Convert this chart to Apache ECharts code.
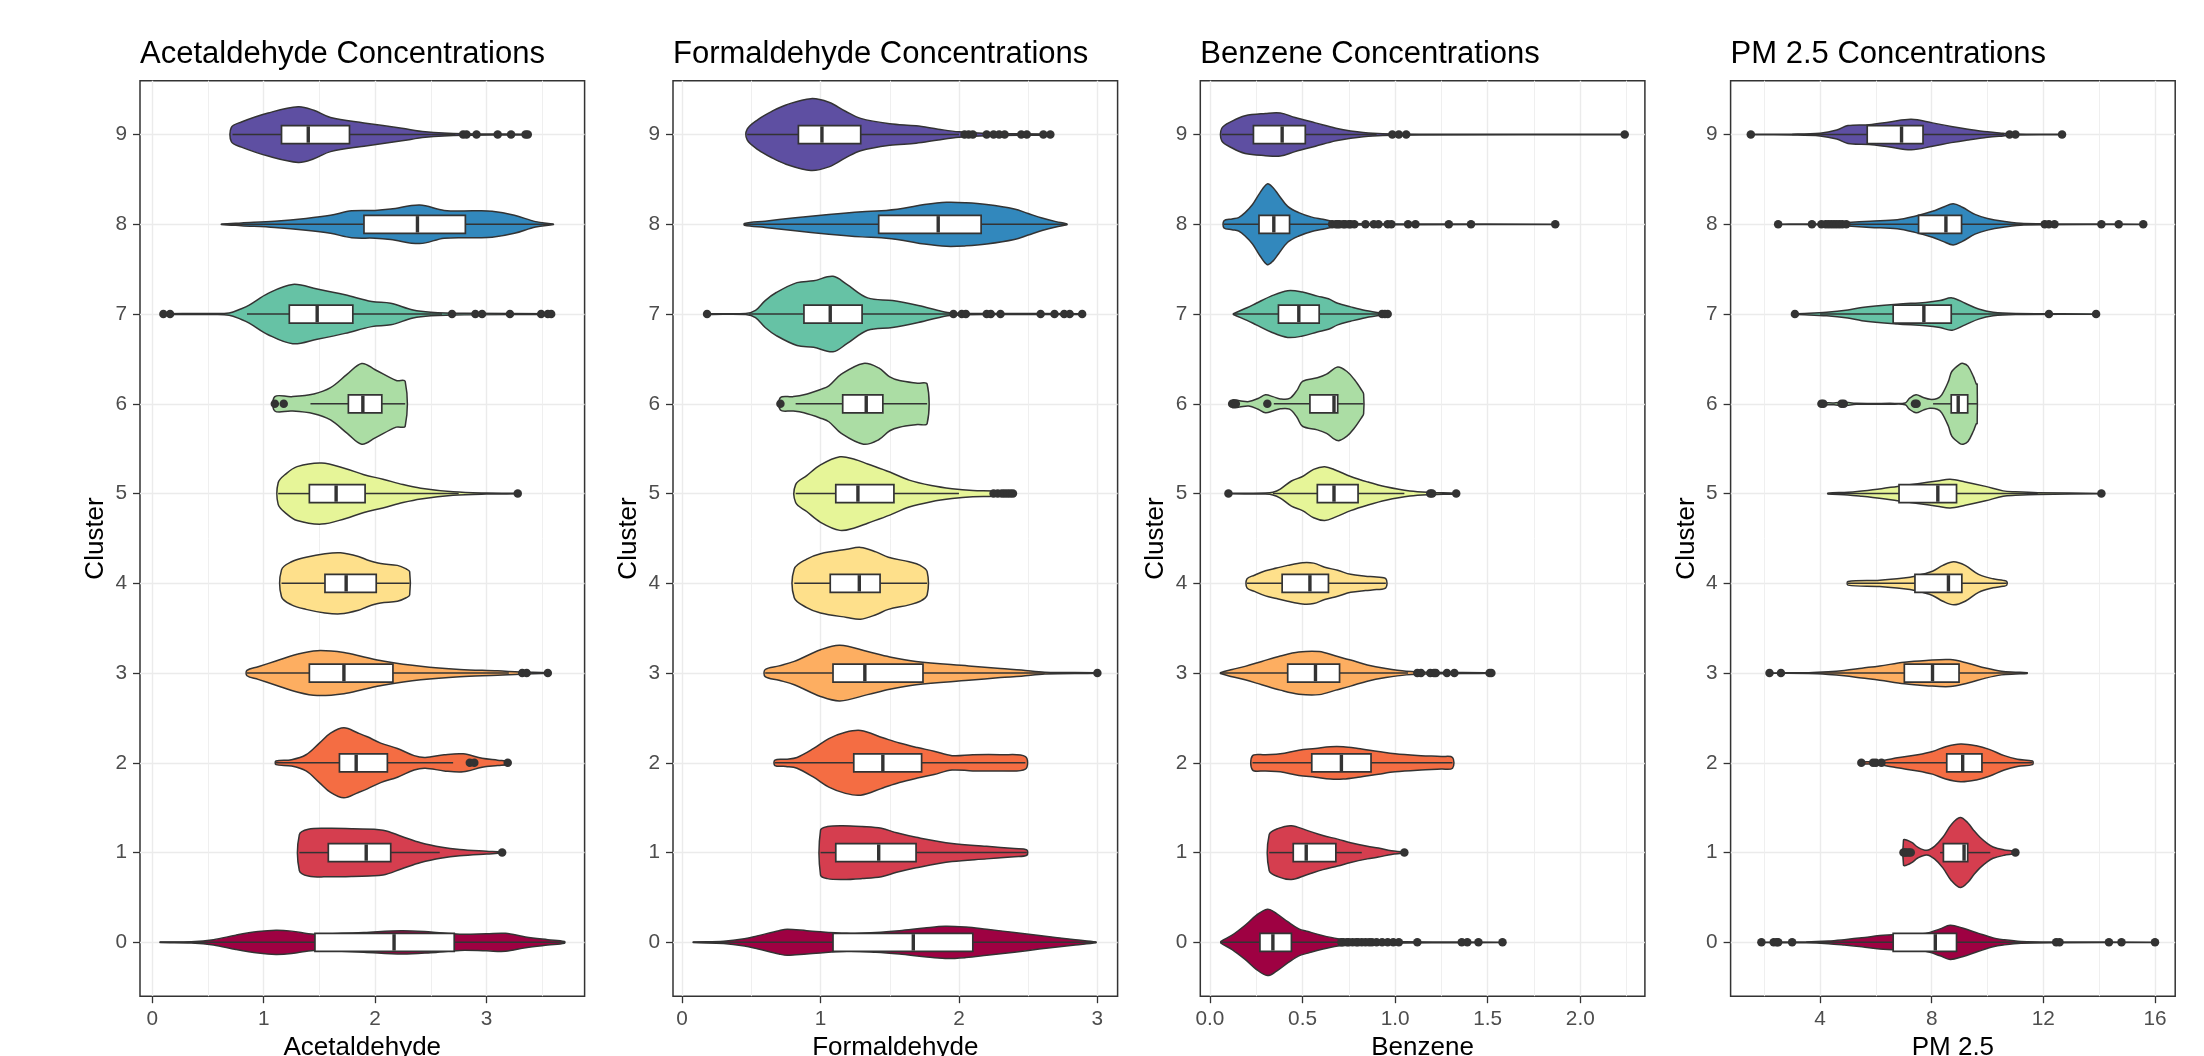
<!DOCTYPE html>
<html><head><meta charset="utf-8">
<script src="https://cdn.jsdelivr.net/npm/echarts@6/dist/echarts.min.js"></script>
<style>html,body{margin:0;padding:0;background:#fff}#c{width:2204px;height:1056px}</style>
</head><body><div id="c"></div>
<script>
// ---------- DATA ----------
const clusters = [0,1,2,3,4,5,6,7,8,9];
const clusterColors = ['#9E0142','#D53E4F','#F46D43','#FDAE61','#FEE08B','#E6F598','#ABDDA4','#66C2A5','#3288BD','#5E4FA2'];

const panelTitles = ['Acetaldehyde Concentrations','Formaldehyde Concentrations','Benzene Concentrations','PM 2.5 Concentrations'];
const axisNames = ['Acetaldehyde','Formaldehyde','Benzene','PM 2.5'];

const acetTicks = [0,1,2,3];
const acetMinor = [0.5,1.5,2.5,3.5];
const formTicks = [0,1,2,3];
const formMinor = [0.5,1.5,2.5];
const benzTicks = [0,0.5,1,1.5,2];
const benzMinor = [0.25,0.75,1.25,1.75,2.25];
const pmTicks = [4,8,12,16];
const pmMinor = [2,6,10,14];

// violin outline: [value, half-width in cluster units]
const acetViolin = [
 [[0.07,0.003],[0.35,0.008],[0.55,0.03],[0.75,0.08],[0.95,0.12],[1.11,0.135],[1.25,0.125],[1.45,0.09],[1.7,0.1],[1.9,0.11],[2.24,0.13],[2.5,0.115],[2.76,0.09],[3.0,0.095],[3.17,0.1],[3.35,0.06],[3.55,0.03],[3.7,0.01]],
 [[1.32,0.2],[1.4,0.26],[1.59,0.27],[1.8,0.265],[2.07,0.25],[2.24,0.18],[2.41,0.11],[2.6,0.06],[2.76,0.035],[3.0,0.015],[3.14,0.005]],
 [[1.11,0.02],[1.25,0.035],[1.38,0.09],[1.5,0.22],[1.6,0.33],[1.72,0.39],[1.85,0.33],[1.93,0.29],[2.05,0.22],[2.2,0.16],[2.35,0.08],[2.45,0.06],[2.62,0.09],[2.79,0.10],[2.96,0.05],[3.1,0.03],[3.2,0.015]],
 [[0.85,0.03],[0.95,0.07],[1.11,0.135],[1.3,0.21],[1.48,0.25],[1.72,0.23],[1.9,0.18],[2.07,0.135],[2.41,0.075],[2.76,0.04],[3.1,0.025],[3.3,0.012],[3.55,0.003]],
 [[1.16,0.15],[1.25,0.24],[1.38,0.29],[1.55,0.33],[1.69,0.34],[1.85,0.3],[1.93,0.26],[2.05,0.22],[2.2,0.2],[2.28,0.16],[2.31,0.13]],
 [[1.13,0.12],[1.2,0.22],[1.3,0.3],[1.52,0.34],[1.73,0.28],[1.9,0.21],[2.07,0.16],[2.25,0.1],[2.41,0.06],[2.7,0.02],[3.0,0.006],[3.28,0.003]],
 [[1.10,0.08],[1.25,0.08],[1.45,0.11],[1.6,0.18],[1.75,0.33],[1.88,0.45],[2.0,0.38],[2.19,0.26],[2.27,0.25]],
 [[0.10,0.004],[0.5,0.006],[0.69,0.012],[0.8,0.06],[0.87,0.10],[1.04,0.23],[1.26,0.33],[1.48,0.28],[1.73,0.215],[1.97,0.14],[2.14,0.12],[2.34,0.045],[2.5,0.02],[2.8,0.008],[3.58,0.004]],
 [[0.62,0.002],[0.8,0.015],[1.1,0.035],[1.38,0.065],[1.6,0.1],[1.79,0.15],[2.0,0.155],[2.14,0.17],[2.4,0.215],[2.62,0.155],[2.9,0.15],[3.05,0.145],[3.25,0.1],[3.44,0.03],[3.6,0.002]],
 [[0.71,0.08],[0.8,0.14],[1.04,0.24],[1.31,0.31],[1.45,0.27],[1.6,0.19],[1.9,0.13],[2.24,0.07],[2.45,0.03],[2.8,0.008],[3.37,0.004]]
];
// box: [lower whisker, q1, median, q3, upper whisker]
const acetBox = [
 [0.07,1.46,2.17,2.71,3.70],[1.32,1.58,1.92,2.14,2.58],[1.11,1.68,1.83,2.11,2.70],[0.85,1.41,1.72,2.16,3.2],[1.16,1.55,1.74,2.01,2.31],
 [1.13,1.41,1.65,1.91,2.75],[1.42,1.76,1.89,2.06,2.27],[0.85,1.23,1.48,1.80,2.6],[0.62,1.90,2.38,2.81,3.6],[0.72,1.16,1.40,1.77,2.72]
];
const acetOutliers = [
 [],[3.14],[2.85,2.89,3.19],[3.32,3.36,3.55],[],[3.28],[1.10,1.18],
 [0.10,0.16,2.69,2.90,2.96,3.21,3.49,3.55,3.58],[],[2.79,2.82,2.91,3.10,3.22,3.35,3.37]
];

const formViolin = [
 [[0.08,0.003],[0.3,0.012],[0.45,0.04],[0.55,0.075],[0.7,0.13],[0.76,0.145],[0.9,0.13],[1.19,0.1],[1.4,0.11],[1.57,0.13],[1.75,0.16],[1.9,0.18],[2.05,0.17],[2.2,0.145],[2.4,0.11],[2.58,0.075],[2.84,0.03],[2.99,0.005]],
 [[1.0,0.25],[1.05,0.29],[1.16,0.30],[1.3,0.29],[1.44,0.27],[1.55,0.22],[1.69,0.17],[1.95,0.10],[2.2,0.07],[2.4,0.045],[2.49,0.03]],
 [[0.67,0.03],[0.75,0.04],[0.83,0.06],[0.95,0.16],[1.06,0.27],[1.18,0.34],[1.29,0.36],[1.45,0.28],[1.57,0.22],[1.7,0.17],[1.82,0.13],[1.95,0.08],[2.1,0.09],[2.3,0.09],[2.48,0.07]],
 [[0.6,0.04],[0.7,0.08],[0.81,0.13],[1.0,0.26],[1.14,0.31],[1.34,0.24],[1.5,0.18],[1.69,0.13],[2.07,0.08],[2.3,0.05],[2.45,0.035],[2.62,0.01],[3.0,0.003]],
 [[0.81,0.16],[0.9,0.27],[1.0,0.33],[1.19,0.38],[1.29,0.40],[1.4,0.35],[1.49,0.29],[1.64,0.24],[1.72,0.2],[1.77,0.13]],
 [[0.82,0.1],[0.9,0.2],[1.0,0.32],[1.14,0.41],[1.25,0.38],[1.34,0.33],[1.5,0.24],[1.64,0.15],[1.8,0.09],[1.95,0.055],[2.1,0.035],[2.25,0.03],[2.4,0.01]],
 [[0.71,0.07],[0.8,0.08],[0.88,0.10],[1.0,0.16],[1.06,0.2],[1.15,0.33],[1.31,0.45],[1.42,0.40],[1.5,0.3],[1.57,0.26],[1.7,0.23],[1.77,0.22]],
 [[0.18,0.004],[0.46,0.006],[0.53,0.04],[0.6,0.15],[0.68,0.24],[0.83,0.35],[0.95,0.37],[1.09,0.42],[1.19,0.33],[1.34,0.18],[1.52,0.15],[1.69,0.10],[1.85,0.04],[1.95,0.012],[2.3,0.006],[2.89,0.004]],
 [[0.45,0.01],[0.6,0.035],[0.8,0.07],[1.06,0.11],[1.3,0.14],[1.44,0.15],[1.6,0.18],[1.75,0.22],[1.91,0.245],[2.05,0.24],[2.2,0.22],[2.4,0.17],[2.5,0.12],[2.6,0.07],[2.7,0.03],[2.78,0.005]],
 [[0.47,0.06],[0.55,0.17],[0.65,0.26],[0.75,0.33],[0.93,0.40],[1.06,0.36],[1.18,0.26],[1.29,0.18],[1.5,0.12],[1.69,0.097],[1.85,0.06],[2.0,0.03],[2.2,0.012],[2.66,0.004]]
];
const formBox = [
 [0.08,1.09,1.67,2.10,2.99],[1.0,1.11,1.42,1.69,2.49],[0.67,1.24,1.45,1.73,2.48],[0.6,1.09,1.32,1.74,2.62],[0.81,1.07,1.28,1.43,1.77],
 [0.82,1.11,1.27,1.53,2.0],[0.82,1.16,1.33,1.45,1.77],[0.48,0.88,1.07,1.30,1.95],[0.45,1.42,1.85,2.16,2.78],[0.47,0.84,1.01,1.29,2.0]
];
const formOutliers = [
 [],[],[],[3.0],[],[2.25,2.28,2.31,2.33,2.35,2.37,2.39],[0.71],
 [0.18,1.96,2.02,2.05,2.2,2.23,2.3,2.59,2.69,2.76,2.8,2.89],[],
 [2.04,2.07,2.1,2.2,2.25,2.29,2.33,2.45,2.49,2.61,2.66]
];

const benzViolin = [
 [[0.06,0.01],[0.12,0.08],[0.19,0.19],[0.25,0.3],[0.31,0.37],[0.36,0.32],[0.42,0.23],[0.48,0.15],[0.53,0.12],[0.6,0.08],[0.69,0.04],[0.78,0.02],[0.9,0.01],[1.2,0.004],[1.58,0.002]],
 [[0.32,0.2],[0.37,0.27],[0.44,0.30],[0.52,0.25],[0.61,0.19],[0.69,0.15],[0.76,0.11],[0.85,0.07],[0.91,0.05],[0.98,0.02],[1.05,0.005]],
 [[0.23,0.08],[0.3,0.09],[0.38,0.1],[0.48,0.14],[0.57,0.16],[0.65,0.18],[0.72,0.18],[0.8,0.16],[0.91,0.126],[1.0,0.1],[1.14,0.08],[1.25,0.07],[1.31,0.06]],
 [[0.057,0.005],[0.12,0.04],[0.19,0.075],[0.28,0.13],[0.38,0.19],[0.48,0.235],[0.59,0.24],[0.68,0.19],[0.76,0.145],[0.85,0.09],[0.95,0.05],[1.06,0.02],[1.2,0.008],[1.52,0.003]],
 [[0.2,0.05],[0.24,0.09],[0.3,0.14],[0.36,0.17],[0.42,0.2],[0.5,0.23],[0.56,0.225],[0.62,0.18],[0.69,0.145],[0.76,0.1],[0.84,0.08],[0.9,0.07],[0.95,0.05]],
 [[0.1,0.003],[0.3,0.006],[0.34,0.015],[0.38,0.05],[0.44,0.14],[0.5,0.19],[0.56,0.27],[0.62,0.30],[0.68,0.26],[0.76,0.19],[0.85,0.13],[0.95,0.075],[1.08,0.028],[1.2,0.012],[1.33,0.004]],
 [[0.12,0.04],[0.16,0.035],[0.21,0.025],[0.26,0.06],[0.3,0.1],[0.34,0.08],[0.38,0.055],[0.43,0.06],[0.47,0.15],[0.5,0.25],[0.58,0.29],[0.63,0.33],[0.69,0.41],[0.74,0.36],[0.78,0.27],[0.82,0.15],[0.83,0.11]],
 [[0.127,0.005],[0.2,0.07],[0.25,0.12],[0.33,0.2],[0.42,0.26],[0.5,0.245],[0.58,0.2],[0.64,0.17],[0.69,0.12],[0.76,0.08],[0.84,0.04],[0.93,0.01],[0.96,0.005]],
 [[0.076,0.04],[0.12,0.06],[0.155,0.075],[0.19,0.13],[0.23,0.22],[0.27,0.35],[0.31,0.45],[0.34,0.41],[0.37,0.33],[0.42,0.2],[0.48,0.13],[0.55,0.08],[0.61,0.056],[0.69,0.02],[0.78,0.008],[1.1,0.004],[1.865,0.002]],
 [[0.064,0.07],[0.12,0.15],[0.19,0.21],[0.3,0.235],[0.38,0.24],[0.46,0.19],[0.57,0.13],[0.68,0.07],[0.76,0.04],[0.88,0.015],[1.13,0.004],[2.24,0.002]]
];
const benzBox = [
 [0.06,0.27,0.34,0.44,0.70],[0.32,0.45,0.52,0.68,0.82],[0.23,0.55,0.71,0.87,1.31],[0.057,0.42,0.57,0.70,1.07],[0.2,0.39,0.54,0.64,0.95],
 [0.34,0.58,0.67,0.80,1.05],[0.345,0.54,0.67,0.69,0.83],[0.127,0.37,0.48,0.59,0.91],[0.076,0.265,0.345,0.43,0.65],[0.064,0.235,0.39,0.515,0.9]
];
const benzOutliers = [
 [0.71,0.72,0.74,0.75,0.77,0.79,0.8,0.82,0.84,0.86,0.875,0.9,0.93,0.96,0.99,1.02,1.12,1.36,1.39,1.45,1.58],
 [1.05],[],[1.12,1.14,1.19,1.21,1.22,1.28,1.32,1.51,1.52],[],[0.1,1.19,1.2,1.33],[0.12,0.14,0.31],[0.93,0.945,0.96],
 [0.66,0.68,0.69,0.7,0.72,0.73,0.75,0.76,0.78,0.84,0.885,0.91,0.96,0.98,1.07,1.11,1.29,1.41,1.865],
 [0.985,1.02,1.06,2.24]
];

const pmViolin = [
 [[1.9,0.002],[3.5,0.005],[4.3,0.015],[4.87,0.03],[5.5,0.05],[6.14,0.075],[7.0,0.09],[7.78,0.1],[8.3,0.15],[8.66,0.19],[9.1,0.16],[9.68,0.1],[10.2,0.05],[10.56,0.03],[11.2,0.01],[12.58,0.004],[16.0,0.002]],
 [[6.99,0.14],[7.1,0.14],[7.3,0.11],[7.5,0.06],[7.82,0.026],[8.1,0.07],[8.4,0.17],[8.7,0.31],[9.02,0.39],[9.3,0.33],[9.5,0.25],[9.73,0.17],[10.0,0.1],[10.2,0.063],[10.6,0.03],[11.0,0.01]],
 [[5.48,0.01],[6.0,0.015],[6.5,0.04],[6.77,0.056],[7.5,0.09],[8.03,0.126],[8.5,0.18],[9.04,0.21],[9.6,0.19],[10.06,0.15],[10.6,0.08],[11.07,0.04],[11.61,0.02]],
 [[2.19,0.002],[3.6,0.005],[4.3,0.015],[4.87,0.03],[5.5,0.055],[6.14,0.08],[7.02,0.12],[7.8,0.14],[8.66,0.15],[9.3,0.11],[9.93,0.056],[10.5,0.02],[11.0,0.01],[11.42,0.005]],
 [[5.0,0.02],[6.14,0.035],[7.0,0.06],[7.4,0.08],[8.03,0.135],[8.4,0.2],[8.79,0.24],[9.2,0.2],[9.68,0.1],[10.2,0.05],[10.56,0.033],[10.69,0.02]],
 [[4.28,0.005],[5.0,0.015],[5.5,0.03],[6.2,0.055],[6.77,0.08],[7.5,0.11],[8.2,0.14],[8.66,0.16],[9.2,0.13],[9.93,0.08],[10.56,0.03],[11.0,0.02],[11.8,0.01],[14.08,0.002]],
 [[4.05,0.01],[4.5,0.01],[4.85,0.02],[5.3,0.005],[6.5,0.006],[7.05,0.01],[7.2,0.06],[7.44,0.1],[7.7,0.07],[7.94,0.05],[8.2,0.06],[8.36,0.1],[8.6,0.25],[8.72,0.36],[9.0,0.44],[9.13,0.45],[9.3,0.42],[9.5,0.3],[9.6,0.22],[9.63,0.22]],
 [[3.1,0.002],[4.24,0.02],[5.0,0.045],[5.5,0.074],[6.77,0.11],[7.78,0.13],[8.3,0.15],[8.73,0.18],[9.2,0.12],[9.68,0.056],[10.2,0.02],[11.0,0.006],[13.89,0.002]],
 [[2.5,0.002],[4.0,0.004],[5.0,0.02],[5.8,0.035],[6.77,0.05],[7.4,0.09],[8.03,0.145],[8.4,0.19],[8.77,0.23],[9.1,0.19],[9.55,0.11],[10.0,0.065],[10.56,0.033],[11.3,0.008],[15.58,0.002]],
 [[1.52,0.002],[3.0,0.004],[4.0,0.015],[4.6,0.05],[5.0,0.1],[5.76,0.11],[6.5,0.14],[7.27,0.17],[8.03,0.13],[8.7,0.09],[9.3,0.06],[10.0,0.03],[10.56,0.015],[11.0,0.005],[12.67,0.002]]
];
const pmBox = [
 [3.5,6.62,8.13,8.89,11.2],[8.3,8.42,9.16,9.29,10.1],[6.3,8.54,9.11,9.8,11.61],[3.3,7.02,8.03,8.98,11.42],[5.0,7.4,8.6,9.08,10.69],
 [4.28,6.83,8.22,8.89,11.8],[8.05,8.7,8.95,9.29,9.63],[4.0,6.62,7.72,8.70,11.0],[5.0,7.53,8.51,9.07,11.3],[3.0,5.69,6.92,7.69,10.6]
];
const pmOutliers = [
 [1.9,2.34,2.45,2.5,3.0,12.46,12.58,14.35,14.8,16.0],[6.99,7.04,7.1,7.18,7.25,11.0],[5.48,5.9,6.0,6.2],[2.19,2.6],[],[14.08],
 [4.05,4.12,4.77,4.85,7.4,7.46],[3.1,12.2,13.89],
 [2.5,3.71,4.05,4.2,4.3,4.4,4.5,4.6,4.7,4.8,4.94,12.05,12.2,12.4,14.08,14.7,15.58],
 [1.52,10.79,11.0,12.67]
];

// ---------- LAYOUT / STYLE ----------
const FONT = "'Liberation Sans', Arial, Helvetica, sans-serif";
const gridLefts = [140, 673, 1200.3, 1730.6];
const gridWidth = 444.6, gridTop = 80.7, gridHeight = 915.5;
const panels = [
  {min:-0.11, max:3.88, ticks:acetTicks, minor:acetMinor, prof:acetViolin, box:acetBox, out:acetOutliers, fmt:v=>String(v)},
  {min:-0.066, max:3.146, ticks:formTicks, minor:formMinor, prof:formViolin, box:formBox, out:formOutliers, fmt:v=>String(v)},
  {min:-0.052, max:2.349, ticks:benzTicks, minor:benzMinor, prof:benzViolin, box:benzBox, out:benzOutliers, fmt:v=>Number(v).toFixed(1)},
  {min:0.796, max:16.724, ticks:pmTicks, minor:pmMinor, prof:pmViolin, box:pmBox, out:pmOutliers, fmt:v=>String(v)}
];
const DARK = '#333333';
const BOXHW = 0.1;

function makeRender(prof, box){
  return function(params, api){
    const c = api.value(1);
    const p = prof[c];
    const pts = [];
    for (let i=0;i<p.length;i++) pts.push(api.coord([p[i][0], c + p[i][1]]));
    for (let i=p.length-1;i>=0;i--) pts.push(api.coord([p[i][0], c - p[i][1]]));
    const b = box[c];
    const a = api.coord([b[1], c + BOXHW]);
    const d = api.coord([b[3], c - BOXHW]);
    const w0 = api.coord([b[0], c]), w1 = api.coord([b[1], c]);
    const w3 = api.coord([b[3], c]), w4 = api.coord([b[4], c]);
    const mt = api.coord([b[2], c + BOXHW]), mb = api.coord([b[2], c - BOXHW]);
    return {
      type:'group',
      children:[
        {type:'polygon', shape:{points:pts, smooth:0.35}, style:{fill:clusterColors[c], stroke:DARK, lineWidth:1.5}},
        {type:'line', shape:{x1:w0[0],y1:w0[1],x2:w1[0],y2:w1[1]}, style:{stroke:DARK, lineWidth:1.5}},
        {type:'line', shape:{x1:w3[0],y1:w3[1],x2:w4[0],y2:w4[1]}, style:{stroke:DARK, lineWidth:1.5}},
        {type:'rect', shape:{x:a[0], y:a[1], width:d[0]-a[0], height:d[1]-a[1]}, style:{fill:'#ffffff', stroke:DARK, lineWidth:1.7}},
        {type:'line', shape:{x1:mt[0],y1:mt[1]+0.8,x2:mb[0],y2:mb[1]-0.8}, style:{stroke:DARK, lineWidth:3.4}}
      ]
    };
  };
}

const grids = [], xAxes = [], yAxes = [], series = [], titles = [];
panels.forEach((P, i) => {
  grids.push({left:gridLefts[i], top:gridTop, width:gridWidth, height:gridHeight, show:true,
              borderColor:DARK, borderWidth:1.5, backgroundColor:'#ffffff',
              containLabel:false, outerBoundsMode:'none'});
  titles.push({text:panelTitles[i], left:gridLefts[i], top:39, padding:0,
               textStyle:{fontSize:31, fontWeight:'normal', color:'#000', fontFamily:FONT}});
  xAxes.push({type:'value', gridIndex:i, position:'bottom', min:P.min, max:P.max,
    axisLine:{show:false, onZero:false},
    axisTick:{show:true, customValues:P.ticks, length:7, lineStyle:{color:DARK, width:1.3}},
    axisLabel:{show:true, customValues:P.ticks, formatter:P.fmt, margin:13, fontSize:20.8, color:'#4d4d4d', fontFamily:FONT},
    splitLine:{show:true, lineStyle:{color:'#ebebeb', width:1.4}},
    name:axisNames[i], nameLocation:'middle', nameGap:38,
    nameTextStyle:{fontSize:26, color:'#000', fontFamily:FONT}});
  xAxes.push({type:'value', gridIndex:i, position:'top', min:P.min, max:P.max,
    axisLine:{show:false, onZero:false},
    axisTick:{show:false, customValues:P.minor},
    axisLabel:{show:false, customValues:P.minor},
    splitLine:{show:true, lineStyle:{color:'#ededed', width:0.9}}});
  yAxes.push({type:'value', gridIndex:i, min:-0.6, max:9.6,
    axisLine:{show:false, onZero:false},
    axisTick:{show:true, customValues:clusters, length:7, lineStyle:{color:DARK, width:1.3}},
    axisLabel:{show:true, customValues:clusters, margin:13, fontSize:20.8, color:'#4d4d4d', fontFamily:FONT},
    splitLine:{show:true, lineStyle:{color:'#ebebeb', width:1.4}},
    name:'Cluster', nameLocation:'middle', nameRotate:90, nameGap:31,
    nameTextStyle:{fontSize:26, color:'#000', fontFamily:FONT}});
  series.push({type:'custom', xAxisIndex:2*i, yAxisIndex:i, z:2, silent:true,
    encode:{x:0, y:1},
    data: clusters.map(c => [P.box[c][2], c]),
    renderItem: makeRender(P.prof, P.box)});
  const pts = [];
  clusters.forEach(c => P.out[c].forEach(v => pts.push([v, c])));
  series.push({type:'scatter', xAxisIndex:2*i, yAxisIndex:i, z:3, silent:true,
    symbol:'circle', symbolSize:8.5, itemStyle:{color:DARK, opacity:1}, data:pts});
});

const chart = echarts.init(document.getElementById('c'), null, {renderer:'canvas'});
chart.setOption({
  animation:false,
  backgroundColor:'#ffffff',
  title:titles, grid:grids, xAxis:xAxes, yAxis:yAxes, series:series
});
</script></body></html>
